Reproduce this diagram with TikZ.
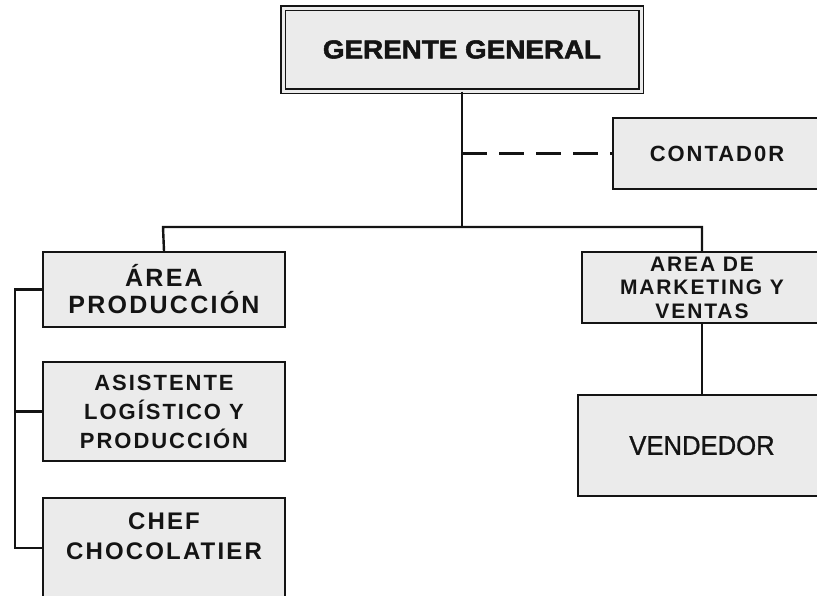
\documentclass[tikz,border=0pt]{standalone}
\usepackage{fontspec}
\setmainfont{Liberation Sans}
\newfontfamily\bossfont[FakeStretch=1.07,FakeBold=2]{Liberation Sans Bold}
\newfontfamily\boxfont[LetterSpace=9]{Liberation Sans Bold}
\newfontfamily\plainfont[FakeStretch=0.95,FakeBold=1]{Liberation Sans}
\usepackage{xcolor}
\definecolor{scanink}{HTML}{141414}
\definecolor{speckle}{HTML}{EBEBEB}

\begin{document}
\begin{tikzpicture}[x=1pt,y=-1pt,
  point/.style={coordinate},
  block/.style={draw=scanink, line width=2pt, fill=speckle, rectangle, align=center, inner sep=0pt, text=scanink, font=\boxfont\fontsize{22}{29}\selectfont},
  boss/.style={block, line width=1.4pt, double=speckle, double distance=3pt, font=\bossfont\fontsize{26}{28}\selectfont},
  link/.style={draw=scanink, line width=2.4pt}]
\useasboundingbox (0,0) rectangle (817,595);
\node[boss, minimum width=358pt, minimum height=83pt] (gerente) at (462,49.5) {GERENTE GENERAL};
\node[block, minimum width=208pt, minimum height=71pt] (contador) at (717,153.5) {CONTAD0R};
\node[block, minimum width=242pt, minimum height=75pt, font=\boxfont\fontsize{25}{27}\selectfont] (area) at (164,289.5) {ÁREA\\PRODUCCIÓN};
\node[block, minimum width=242pt, minimum height=99pt] (asistente) at (164,411.5) {ASISTENTE\\LOGÍSTICO Y\\PRODUCCIÓN};
\node[block, minimum width=242pt, minimum height=100pt, text depth=24pt, font=\boxfont\fontsize{24}{30}\selectfont] (chef) at (164,548) {CHEF\\CHOCOLATIER};
\node[block, minimum width=240pt, minimum height=71pt, font=\boxfont\fontsize{21}{23.5}\selectfont] (marketing) at (702,287.5) {AREA DE\\MARKETING Y\\VENTAS};
\node[block, minimum width=248pt, minimum height=101pt, font=\plainfont\fontsize{27}{29}\selectfont] (vendedor) at (702,445.5) {VENDEDOR};
\node[point] (busL) at (163,227) {};
\node[point] (busR) at (702,227) {};
\node[point] (spine) at (15,0) {};
% main tree
\draw[link] (gerente.south) -- (gerente.south |- busL);
\draw[link] (area.north) -- (busL) -- (busR) -- (marketing.north);
\draw[link, dash pattern=on 25pt off 12pt] (gerente.south |- contador.west) -- (contador.west);
\draw[link] (marketing) -- (vendedor);
% production side
\draw[link] (area.west) -- (area.west -| spine) |- (chef.west);
\draw[link] (asistente.west) -- (asistente.west -| spine);
\end{tikzpicture}
\end{document}
